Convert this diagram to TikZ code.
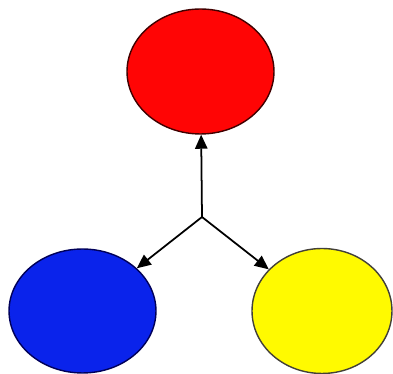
\documentclass[tikz,border=0pt]{standalone}
\usetikzlibrary{shapes.geometric,arrows.meta}

\definecolor{ballred}{RGB}{255,5,5}
\definecolor{ballblue}{RGB}{10,35,235}
\definecolor{ballyellow}{RGB}{255,250,0}

\begin{document}
\begin{tikzpicture}[x=0.02cm, y=-0.02cm,
	ball/.style={ellipse, inner sep=0pt, line width=0.8pt},
	pointer/.style={line width=1pt, -{Triangle[length=8pt, width=7pt]}}]
	\useasboundingbox (0,0) rectangle (393,374);
	% three balls
	\node[ball, draw=black!75!red, fill=ballred, minimum width=2.94cm, minimum height=2.5cm] (red) at (200.5,71.5) {};
	\node[ball, draw=black!65!blue, fill=ballblue, minimum width=2.94cm, minimum height=2.48cm] (blue) at (82.5,311) {};
	\node[ball, draw=black!85!yellow, fill=ballyellow, minimum width=2.8cm, minimum height=2.5cm] (yellow) at (322,311) {};
	% branching arrows
	\coordinate (hub) at (202,217);
	\draw[pointer] (hub) -- (red);
	\draw[pointer] (hub) -- (blue);
	\draw[pointer] (hub) -- (yellow);
\end{tikzpicture}
\end{document}
